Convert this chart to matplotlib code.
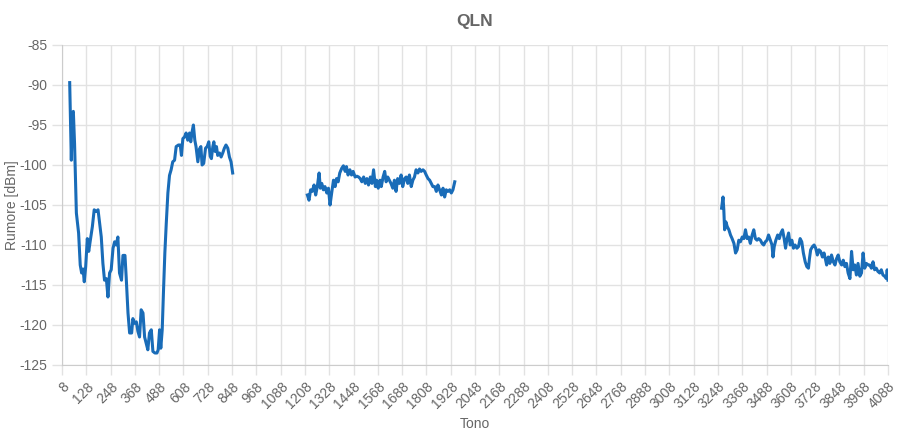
import matplotlib
matplotlib.use('Agg')
import matplotlib.pyplot as plt

plt.rcParams['font.family'] = ['Liberation Sans', 'DejaVu Sans']
plt.rcParams['axes.unicode_minus'] = False

# tono / rumore, tre tratti con buchi in mezzo
tones1 = [46, 54, 59, 64, 70, 79, 90, 98, 105, 112, 118, 125, 133, 140, 148, 158, 167, 177, 186,
          194, 202, 210, 218, 227, 235, 243, 251, 260, 268, 276, 284, 292, 302, 309, 319, 325,
          334, 342, 352, 358, 366, 375, 383, 391, 399, 408, 416, 424, 432, 440, 449, 457, 467,
          477, 483, 490, 496, 503, 509, 516, 523, 531, 539, 547, 555, 564, 572, 583, 592, 598,
          605, 613, 621, 629, 638, 644, 651, 657, 664, 670, 679, 687, 694, 700, 708, 717, 725,
          733, 740, 746, 753, 758, 764, 771, 777, 786, 794, 802, 810, 818, 827, 835, 843, 851]
qln1 = [-89.7, -99.4, -93.5, -93.3, -97.3, -106, -108.5, -112.5, -113.5, -113, -114.6, -112.7,
        -109.2, -110.8, -109.4, -107.7, -105.6, -105.8, -105.6, -107.3, -109, -112.3, -114.4,
        -114.2, -116.5, -113.5, -113.1, -110.4, -109.6, -110, -109, -113.5, -114.4, -111.3,
        -111.3, -114, -118.5, -121, -121, -119.2, -119.8, -119.6, -120.8, -121.5, -118.1,
        -118.5, -121.5, -122.3, -123.1, -121, -120.6, -123.3, -123.5, -123.5, -123.1, -120.6,
        -122.9, -120.6, -116, -111, -107.3, -103.5, -101.3, -100.6, -99.6, -99.4, -97.7,
        -97.5, -97.5, -98.8, -96.7, -96.5, -96, -96.9, -96, -97.1, -95.8, -95, -96.9, -97.7,
        -99.6, -98, -97.7, -100, -99.8, -97.9, -97.7, -97.1, -98.9, -99.2, -97.7, -97.1,
        -98.3, -97.7, -98.8, -98.5, -99, -98.5, -97.9, -97.5, -97.9, -99, -99.6, -101]

tones2 = [1220, 1228, 1236, 1244, 1253, 1261, 1269, 1278, 1284, 1291, 1299, 1307, 1316, 1324,
          1332, 1340, 1349, 1357, 1364, 1372, 1380, 1390, 1398, 1407, 1413, 1421, 1430, 1438,
          1446, 1456, 1465, 1473, 1481, 1489, 1498, 1506, 1514, 1522, 1531, 1539, 1547, 1556,
          1562, 1570, 1579, 1585, 1594, 1602, 1609, 1617, 1625, 1633, 1642, 1650, 1658, 1666,
          1675, 1683, 1691, 1700, 1708, 1716, 1724, 1733, 1741, 1749, 1757, 1766, 1774, 1782,
          1791, 1799, 1807, 1816, 1824, 1832, 1840, 1849, 1857, 1865, 1873, 1882, 1890, 1898,
          1906, 1915, 1923, 1931, 1939, 1948]
qln2 = [-103.75, -104.4, -103.1, -103.3, -102.5, -103.75, -102.7, -101, -102.9, -102.3, -103.1,
        -102.7, -103.5, -102.9, -105, -103.5, -101.9, -102.7, -101.7, -102.1, -101, -100.4,
        -100.1, -100.8, -100.2, -101.25, -100.6, -101.25, -100.8, -101.5, -101.4, -101.5,
        -101.7, -102.1, -101.5, -102.3, -101.7, -102.5, -101.5, -102.3, -100.6, -102.7,
        -101.9, -102.9, -101.9, -102.7, -101.5, -100.8, -102.1, -101.5, -101.9, -102.3,
        -102.9, -101.9, -103.3, -101.7, -102.3, -101.25, -102.7, -101.7, -101.5, -102.3,
        -101.25, -102.7, -101.9, -101.5, -100.6, -101, -100.5, -100.8, -100.6, -100.8,
        -101.25, -101.7, -101.9, -102.3, -102.7, -102.7, -103.3, -102.5, -103.1, -103.75,
        -102.9, -104, -103.1, -103.3, -103.1, -103.5, -103.1, -102.1]

tones3 = [3266, 3273, 3277, 3281, 3287, 3294, 3302, 3310, 3318, 3327, 3335, 3343, 3351, 3359,
          3368, 3376, 3384, 3392, 3400, 3408, 3417, 3425, 3433, 3441, 3449, 3458, 3466, 3474,
          3482, 3490, 3498, 3507, 3515, 3520, 3526, 3534, 3543, 3551, 3559, 3567, 3575, 3582,
          3588, 3597, 3605, 3613, 3621, 3629, 3638, 3646, 3654, 3662, 3670, 3679, 3687, 3695,
          3700, 3706, 3715, 3723, 3731, 3739, 3747, 3755, 3764, 3772, 3780, 3785, 3793, 3801,
          3809, 3818, 3826, 3834, 3842, 3850, 3859, 3867, 3875, 3883, 3891, 3900, 3908, 3916,
          3924, 3932, 3940, 3949, 3957, 3965, 3973, 3981, 3990, 3998, 4006, 4014, 4022, 4030,
          4038, 4047, 4055, 4063, 4071, 4080, 4084, 4088]
qln3 = [-105.4, -104, -105.6, -108.1, -107.1, -107.7, -108.1, -108.75, -109.2, -109.8, -111,
        -110.6, -109.4, -109.6, -109, -109.2, -108.1, -109.2, -109, -109.8, -108.75, -108.1,
        -109.2, -109.4, -109.2, -109.4, -109.8, -110, -109.6, -109.4, -108.75, -109.4, -110,
        -111.5, -110.2, -109.4, -108.75, -109.2, -108.5, -108.1, -109.2, -110.4, -109.4,
        -108.5, -110, -109.4, -110.4, -110, -110.4, -110.2, -109.2, -109.6, -111, -112.1,
        -112.7, -112.9, -111.7, -110.6, -110.2, -110, -110.4, -111.25, -110.6, -110.8,
        -111.5, -111, -111.9, -112.5, -111.5, -112.3, -111.25, -112.1, -112.5, -111.7,
        -111.25, -112.1, -112.5, -111.9, -112.7, -112.3, -113.5, -114.2, -110.8, -113.1,
        -112.5, -113.75, -112.3, -113.9, -113.5, -111, -112.9, -112.3, -112.5, -112.5,
        -112.9, -112.1, -113.1, -112.9, -113.3, -113.5, -113.1, -113.75, -113.9, -114.2,
        -113.1, -114.4]

xticks = list(range(8, 4089, 120))
yticks = list(range(-125, -84, 5))

fig = plt.figure(figsize=(9, 4.37), dpi=100)
ax = fig.add_axes([62 / 900, 1 - 365 / 437, 826 / 900, 320 / 437])

color = '#196cb8'
for t, q in [(tones1, qln1), (tones2, qln2), (tones3, qln3)]:
    ax.plot(t, q, color=color, linewidth=2.2, solid_joinstyle='round')

ax.set_xlim(8, 4088)
ax.set_ylim(-125, -85)
ax.set_xticks(xticks)
ax.set_xticklabels([str(x) for x in xticks], rotation=45, ha='right', rotation_mode='anchor')
ax.set_yticks(yticks)

ax.grid(True, color='#e2e2e2', linewidth=1)
ax.set_axisbelow(True)
for side in ['top', 'right']:
    ax.spines[side].set_visible(False)
for side in ['left', 'bottom']:
    ax.spines[side].set_color('#cccccc')
ax.tick_params(axis='both', colors='#666666', labelsize=10, length=7, width=1)
ax.tick_params(axis='both', color='#e2e2e2')

ax.set_title('QLN', fontsize=12.5, fontweight='bold', color='#666666', pad=14)
ax.set_xlabel('Tono', fontsize=10, color='#666666', labelpad=4)
ax.set_ylabel('Rumore [dBm]', fontsize=10, color='#666666')
ax.yaxis.set_label_coords(-43 / 826, 0.5)

fig.savefig('out.png', dpi=100)
